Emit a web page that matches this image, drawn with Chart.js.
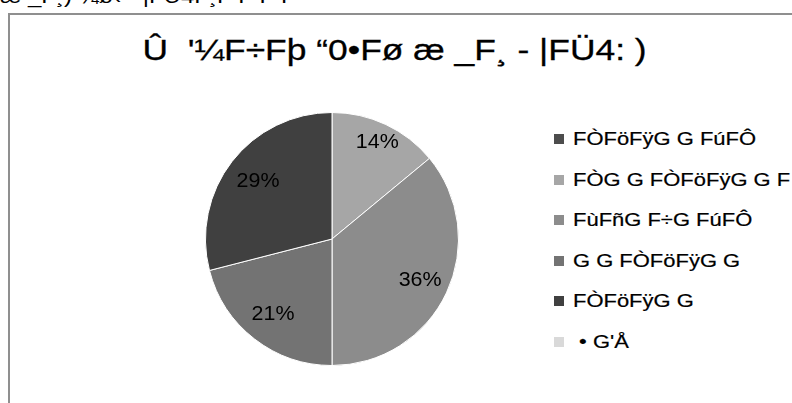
<!DOCTYPE html>
<html><head><meta charset="utf-8">
<script src="https://cdn.jsdelivr.net/npm/chart.js@4.4.1/dist/chart.umd.min.js"></script>
<style>
html,body{margin:0;padding:0;width:792px;height:403px;overflow:hidden;background:#fff;font-family:"Liberation Sans",Arial,sans-serif;color:#000;}
#toptext{position:absolute;left:0;top:-14px;font-size:20px;white-space:pre;line-height:20px;transform:scaleX(1.2);transform-origin:left center;}
#frame{position:absolute;left:8px;top:13px;width:900px;height:500px;border-left:2px solid #8f8f8f;border-top:2px solid #8f8f8f;box-sizing:border-box;}
#title{position:absolute;left:0;width:790px;top:28px;text-align:center;font-size:30px;line-height:44px;white-space:pre;}
#title span{display:inline-block;transform:scaleX(1.18);transform-origin:center;-webkit-text-stroke:0.3px #000;}
#pie{position:absolute;left:205px;top:112px;width:254px;height:254px;}
.lg{position:absolute;left:554px;height:20px;white-space:pre;font-size:18px;line-height:20px;}
.lg i{position:absolute;left:0;top:5px;width:10px;height:10px;}
.lg span{position:absolute;left:19px;top:0;transform:scaleX(1.22);transform-origin:left center;-webkit-text-stroke:0.2px #000;}
</style></head>
<body>
<div id="toptext">æ _F¸) ¼ø‹  “|FÜ4F¸F F F F</div>
<div id="frame"></div>
<div id="title"><span id="tt"></span></div>
<div id="pie"><canvas id="c"></canvas></div>
<div id="legend"></div>
<script>
const chartTitle = "Û  '¼F÷Fþ “0•Fø æ _F¸ - |FÜ4: )";
const categories = ["FÒFöFÿG G FúFÔ", "FÒG G FÒFöFÿG G F", "FùFñG F÷G FúFÔ", "G G FÒFöFÿG G", "FÒFöFÿG G", " • G'Å"];
const values = [0, 14, 36, 21, 29, 0];
const colors = ["#4d4d4d", "#a6a6a6", "#8c8c8c", "#737373", "#404040", "#d9d9d9"];
const labelRadius = [0.78, 0.84, 0.77, 0.76, 0.74, 0.78];

document.getElementById('tt').textContent = chartTitle;

const lg = document.getElementById('legend');
const rowTop = 129, rowStep = 40.5;
categories.forEach((c, i) => {
  const d = document.createElement('div');
  d.className = 'lg';
  d.style.top = (rowTop + i * rowStep) + 'px';
  const sq = document.createElement('i'); sq.style.background = colors[i];
  const sp = document.createElement('span'); sp.textContent = c;
  d.appendChild(sq); d.appendChild(sp); lg.appendChild(d);
});

const total = values.reduce((a, b) => a + b, 0);
const pctLabels = {
  id: 'pctLabels',
  afterDatasetsDraw(chart) {
    const ctx = chart.ctx;
    const meta = chart.getDatasetMeta(0);
    meta.data.forEach((arc, i) => {
      const v = values[i];
      if (!v) return;
      const p = arc.getProps(['x', 'y', 'startAngle', 'endAngle', 'outerRadius'], true);
      const mid = (p.startAngle + p.endAngle) / 2;
      const r = p.outerRadius * labelRadius[i];
      ctx.save();
      ctx.translate(p.x + Math.cos(mid) * r, p.y + Math.sin(mid) * r);
      ctx.scale(1.1, 1);
      ctx.font = '19.5px "Liberation Sans", Arial, sans-serif';
      ctx.fillStyle = '#000';
      ctx.textAlign = 'center';
      ctx.textBaseline = 'middle';
      ctx.fillText(Math.round(v / total * 100) + '%', 0, 0);
      ctx.restore();
    });
  }
};

new Chart(document.getElementById('c'), {
  type: 'pie',
  data: {
    labels: categories,
    datasets: [{
      data: values,
      backgroundColor: colors,
      borderColor: '#ffffff',
      borderWidth: 1
    }]
  },
  options: {
    responsive: true,
    maintainAspectRatio: false,
    animation: false,
    layout: { padding: 0 },
    plugins: { legend: { display: false }, tooltip: { enabled: false }, title: { display: false } }
  },
  plugins: [pctLabels]
});
</script>
</body></html>
